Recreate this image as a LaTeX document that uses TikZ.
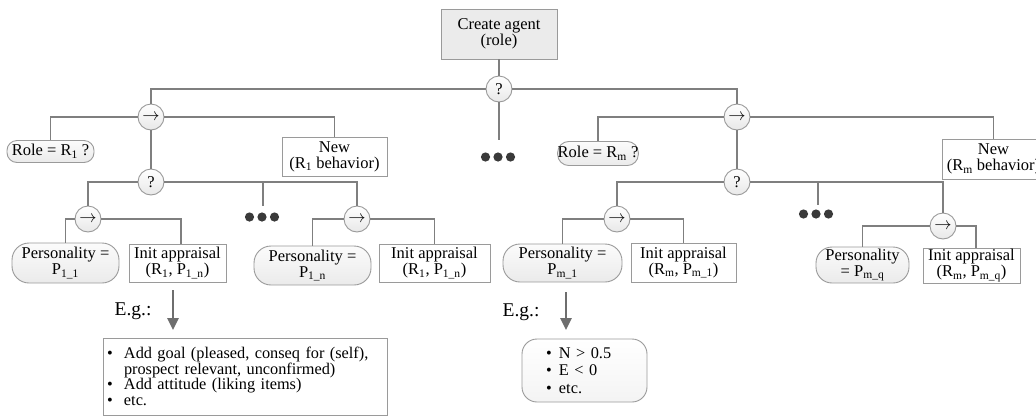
\documentclass[tikz,border=0pt]{standalone}
\usepackage{fontspec}
\setmainfont{Liberation Serif}
\usetikzlibrary{arrows.meta,shadows,calc}

\definecolor{linec}{HTML}{7F7F7F}
\definecolor{bordc}{HTML}{9A9A9A}
\definecolor{dotc}{HTML}{3A3A3A}
\definecolor{arrc}{HTML}{6E6E6E}
\definecolor{rootfill}{HTML}{EBEBEB}

\newcommand{\bul}{\makebox[18pt][l]{\hspace{1pt}\textbullet}}
\newcommand{\bulb}{\makebox[13pt][l]{\textbullet}}
\newcommand{\threedots}[3]{%
  \node[inner sep=0pt, minimum width=34pt, minimum height=9pt] (#1) at (#2,#3) {};
  \fill[dotc] ($(#1.center)+(-12.5,0)$) circle[radius=4.6pt]
              (#1.center) circle[radius=4.6pt]
              ($(#1.center)+(12.5,0)$) circle[radius=4.6pt];}

\tikzset{
  base/.style={font=\fontsize{16.5}{16}\selectfont, align=center, inner sep=0pt,
               draw=bordc, line width=0.9pt, text=black},
  ctrl/.style={base, circle, minimum size=26pt, top color=white, bottom color=gray!18},
  cond/.style={base, rectangle, top color=gray!3, bottom color=gray!16},
  act/.style={base, rectangle, fill=white,
              drop shadow={opacity=0.22, shadow xshift=1.2pt, shadow yshift=-1.2pt}},
  rootbox/.style={base, rectangle, fill=rootfill},
  conn/.style={draw=linec, line width=1.2pt},
  bigarrow/.style={draw=arrc, line width=2.6pt, -{Triangle[width=11pt,length=12pt]}},
  eg/.style={font=\fontsize{19.5}{19.5}\selectfont, inner sep=0pt},
}

\begin{document}
\begin{tikzpicture}[x=1pt,y=-1pt]
\useasboundingbox (0,0) rectangle (1036,416);

% root
\node[rootbox, minimum width=116pt, minimum height=50pt] (root) at (499,34) {Create agent\\(role)};
\node[ctrl] (q0) at (499,89) {?};

% level 1
\node[ctrl] (s1) at (151,117) {$\rightarrow$};
\node[ctrl] (s2) at (737,117) {$\rightarrow$};
\threedots{d0}{498}{157}
\coordinate (t0) at (499,140);

% left sequence children
\node[cond, rounded corners=10pt, minimum width=87pt, minimum height=22pt] (role1) at (50.5,151.5) {Role = R\textsubscript{1} ?};
\node[act, minimum width=105pt, minimum height=39pt] (new1) at (334.5,156.5) {New\\(R\textsubscript{1} behavior)};
\node[ctrl] (q1) at (151,182) {?};

% right sequence children
\node[cond, rounded corners=11pt, minimum width=80pt, minimum height=24pt] (rolem) at (598,153.5) {Role = R\textsubscript{m} ?};
\node[act, minimum width=103pt, minimum height=40pt] (newm) at (993.5,159) {New\\(R\textsubscript{m} behavior)};
\node[ctrl] (q2) at (737,182) {?};

% left selector children
\node[ctrl] (s11) at (88,219) {$\rightarrow$};
\node[ctrl] (s12) at (357,219) {$\rightarrow$};
\threedots{d1}{262}{217}
\coordinate (t1) at (263,206);

% right selector children
\node[ctrl] (s21) at (617,219) {$\rightarrow$};
\node[ctrl] (s22) at (943,226) {$\rightarrow$};
\threedots{d2}{816}{214}
\coordinate (t2) at (818,205);

% leaves
\node[cond, rounded corners=17pt, minimum width=107pt, minimum height=40pt] (p11) at (65.5,263) {Personality =\\P\textsubscript{1\_1}};
\node[act, minimum width=97pt, minimum height=38pt] (i11) at (177.5,263) {Init appraisal\\(R\textsubscript{1}, P\textsubscript{1\_n})};
\node[cond, rounded corners=17pt, minimum width=117pt, minimum height=39pt] (p1n) at (312.5,265.5) {Personality =\\P\textsubscript{1\_n}};
\node[act, minimum width=111pt, minimum height=38pt] (i1n) at (434.5,263) {Init appraisal\\(R\textsubscript{1}, P\textsubscript{1\_n})};
\node[cond, rounded corners=17pt, minimum width=119pt, minimum height=38pt] (pm1) at (562.5,263) {Personality =\\P\textsubscript{m\_1}};
\node[act, minimum width=105pt, minimum height=39pt] (im1) at (683.5,262.5) {Init appraisal\\(R\textsubscript{m}, P\textsubscript{m\_1})};
\node[cond, rounded corners=16pt, minimum width=93pt, minimum height=36pt] (pmq) at (862.5,265) {Personality\\= P\textsubscript{m\_q}};
\node[act, minimum width=97pt, minimum height=35pt] (imq) at (971.5,265.5) {Init appraisal\\(R\textsubscript{m}, P\textsubscript{m\_q})};

% examples
\node[eg] (eg1) at (133,311) {E.g.:};
\node[eg] (eg2) at (521,312) {E.g.:};
\coordinate (a1) at (173,330);
\coordinate (a2) at (566,330);

\node[act, font=\fontsize{16.3}{15.7}\selectfont, align=left, text width=278pt, inner xsep=3pt,
      minimum height=77pt] (ex1) at (245,376.5)
  {\bul Add goal (pleased, conseq for (self),\\
   \hspace*{18pt}prospect relevant, unconfirmed)\\
   \bul Add attitude (liking items)\\
   \bul etc.};
\node[cond, rounded corners=15pt, top color=white, bottom color=gray!9,
      font=\fontsize{16.3}{17.5}\selectfont, align=left, text width=77pt, inner xsep=24pt,
      minimum height=63pt] (ex2) at (584.5,370.5)
  {\bulb N > 0.5\\ \bulb E < 0\\ \bulb etc.};

% connectors
\draw[conn] (root.south) -- (q0.north);
\draw[conn] (q0.west) -| (s1.north);
\draw[conn] (q0.east) -| (s2.north);
\draw[conn] (q0.south) -- (t0);

\draw[conn] (s1.west) -| (role1.north);
\draw[conn] (s1.east) -| (new1.north);
\draw[conn] (s1.south) -- (q1.north);

\draw[conn] (s2.west) -| (rolem.north);
\draw[conn] (s2.east) -| (newm.north);
\draw[conn] (s2.south) -- (q2.north);

\draw[conn] (q1.west) -| (s11.north);
\draw[conn] (q1.east) -| (s12.north);
\draw[conn] (t1 |- q1.east) -- (t1);

\draw[conn] (q2.west) -| (s21.north);
\draw[conn] (q2.east) -| (s22.north);
\draw[conn] (t2 |- q2.east) -- (t2);

\draw[conn] (s11.west) -| (p11.north);
\draw[conn] (s11.east) -| ([xshift=3.5pt]i11.north);
\draw[conn] (s12.west) -| (p1n.north);
\draw[conn] (s12.east) -| (i1n.north);
\draw[conn] (s21.west) -| (pm1.north);
\draw[conn] (s21.east) -| (im1.north);
\draw[conn] (s22.west) -| (pmq.north);
\draw[conn] (s22.east) -| ([xshift=4.5pt]imq.north);

\draw[bigarrow] ([xshift=-4.5pt,yshift=-8pt]i11.south) -- (a1);
\draw[bigarrow] ([xshift=3.5pt,yshift=-10pt]pm1.south) -- (a2);
\end{tikzpicture}
\end{document}
